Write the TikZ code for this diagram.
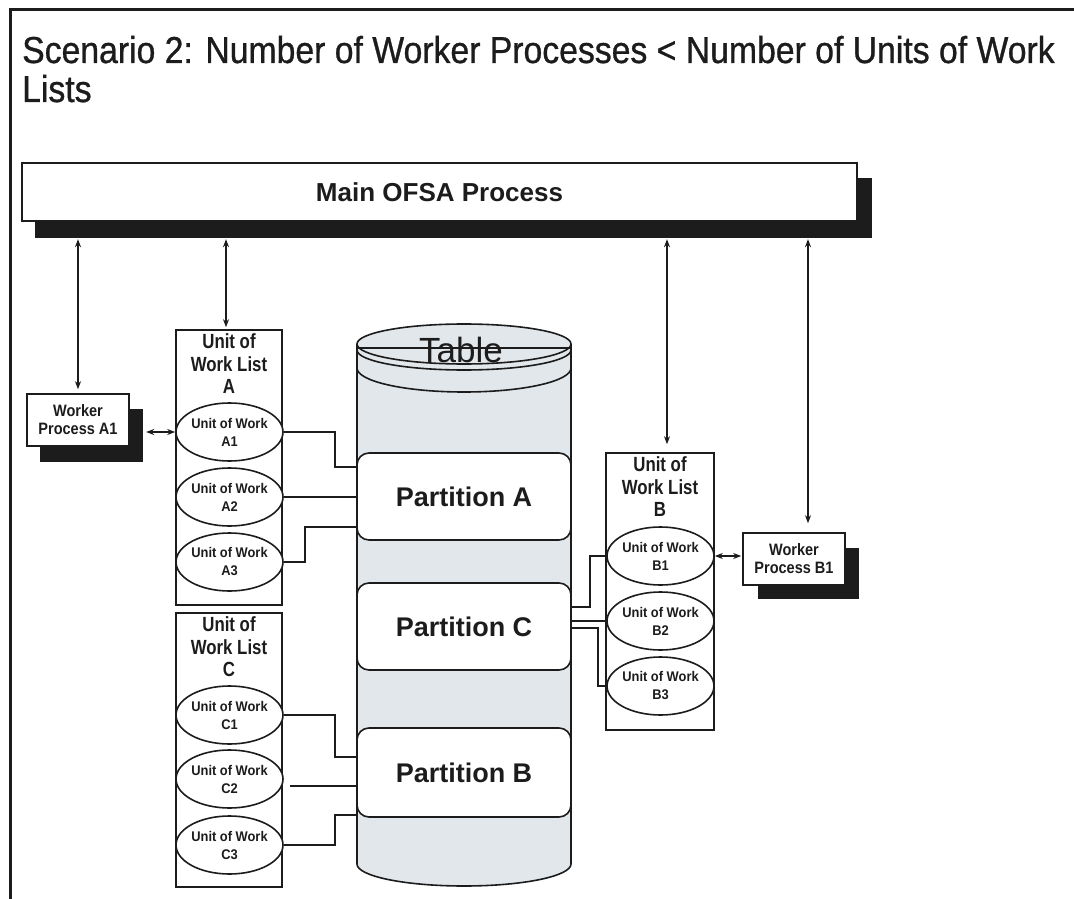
\documentclass[tikz,border=0pt]{standalone}
\usepackage{fontspec}
\setmainfont{Liberation Sans}
\newfontfamily\titlefont[FakeStretch=0.9,FakeBold=0.8]{Liberation Sans}
\newfontfamily\narrowfont[FakeStretch=0.82]{Liberation Sans}
\newfontfamily\workerfont[FakeStretch=0.88]{Liberation Sans}
\newfontfamily\unitfont[FakeStretch=0.92]{Liberation Sans}
\usetikzlibrary{calc,arrows.meta,shapes.geometric}
\definecolor{ink}{HTML}{1C1C1C}
\definecolor{cylgray}{HTML}{E2E7EB}
\tikzset{
  boxline/.style={draw=ink, line width=1.6pt},
  mainbox/.style={boxline, fill=white, minimum width=835pt, minimum height=58pt, inner sep=0pt, text=ink, font=\bfseries\fontsize{26}{30}\selectfont},
  shadowfill/.style={fill=ink, draw=none, inner sep=0pt},
  workerbox/.style={boxline, fill=white, minimum width=102pt, minimum height=52pt, inner sep=0pt, align=center, text=ink, font=\workerfont\bfseries\fontsize{16.5}{18}\selectfont},
  listbox/.style={boxline, fill=white, inner sep=0pt},
  listtitle/.style={align=center, inner sep=0pt, anchor=north, text=ink, font=\narrowfont\bfseries\fontsize{20.5}{22.5}\selectfont},
  unitell/.style={ellipse, boxline, fill=white, minimum width=107pt, minimum height=58pt, inner ysep=0pt, inner xsep=-8pt, align=center, text=ink, font=\unitfont\bfseries\fontsize{14}{18}\selectfont},
  partbox/.style={boxline, fill=white, rounded corners=12pt, minimum width=214pt, minimum height=87pt, inner sep=0pt, text=ink, font=\bfseries\fontsize{27}{30}\selectfont},
  conn/.style={draw=ink, line width=1.6pt},
  biarrow/.style={draw=ink, line width=1.3pt, {Stealth[length=8pt,width=6pt]}-{Stealth[length=8pt,width=6pt]}},
  titletext/.style={anchor=base west, inner sep=0pt, text=ink, font=\titlefont\fontsize{37.5}{41}\selectfont},
}
\begin{document}
\begin{tikzpicture}[x=1pt,y=1pt]
\useasboundingbox (0,0) rectangle (1074,-899);
\fill[white] (0,0) rectangle (1074,-899);
% frame
\draw[ink, line width=3pt] (10,-899) -- (10,-10) -- (1074,-10);
% title
\node[titletext] (t1) at (22,-63) {Scenario 2: Number of Worker Processes < Number of Units of Work};
\node[titletext] (t2) at (22,-102) {Lists};
% main process
\node[shadowfill, minimum width=837pt, minimum height=60pt] (mainsh) at (453.5,-208) {};
\node[mainbox] (main) at (439.5,-192) {Main OFSA Process};
% cylinder
\path[fill=cylgray] (357,-344) -- (357,-864) arc[start angle=180,end angle=360,x radius=107pt,y radius=22pt] -- (571,-344) arc[start angle=0,end angle=180,x radius=107pt,y radius=20pt] -- cycle;
\draw[conn] (357,-344) -- (357,-864) arc[start angle=180,end angle=360,x radius=107pt,y radius=22pt] -- (571,-344);
\draw[conn] (464,-344) ellipse [x radius=107pt, y radius=20pt];
\draw[conn, line width=1.2pt] (358,-348) -- (570,-348);
\draw[conn] (357,-350) arc[start angle=180,end angle=360,x radius=107pt,y radius=20pt];
\draw[conn] (357,-368) arc[start angle=180,end angle=360,x radius=107pt,y radius=24pt];
\node[anchor=base, inner sep=0pt, text=ink, font=\fontsize{35}{40}\selectfont] (tbl) at (461,-362) {Table};
% partitions
\node[partbox] (pA) at (464,-496.5) {Partition A};
\node[partbox] (pC) at (464,-626.5) {Partition C};
\node[partbox, minimum height=89pt] (pB) at (464,-772.5) {Partition B};
% workers
\node[shadowfill, minimum width=103pt, minimum height=53pt] (wAsh) at (91.5,-435.5) {};
\node[workerbox] (wA) at (78,-420) {Worker\\Process A1};
\node[shadowfill, minimum width=101pt, minimum height=51pt] (wBsh) at (808,-573) {};
\node[workerbox] (wB) at (794,-559) {Worker\\Process B1};
% lists
\node[listbox, minimum width=106pt, minimum height=275pt] (lA) at (229,-467.5) {};
\node[listtitle] (tA) at ([yshift=-4.5pt]lA.north) {Unit of\\Work List\\A};
\node[unitell] (eA1) at (229.5,-432) {Unit of Work\\A1};
\node[unitell] (eA2) at (229.5,-497) {Unit of Work\\A2};
\node[unitell] (eA3) at (229.5,-562) {Unit of Work\\A3};
\node[listbox, minimum width=106pt, minimum height=274pt] (lC) at (229,-750) {};
\node[listtitle] (tC) at ([yshift=-4.5pt]lC.north) {Unit of\\Work List\\C};
\node[unitell] (eC1) at (229.5,-715) {Unit of Work\\C1};
\node[unitell] (eC2) at (229.5,-779) {Unit of Work\\C2};
\node[unitell] (eC3) at (229.5,-845) {Unit of Work\\C3};
\node[listbox, minimum width=108pt, minimum height=277pt] (lB) at (660,-591.5) {};
\node[listtitle] (tB) at ([yshift=-4.5pt]lB.north) {Unit of\\Work List\\B};
\node[unitell] (eB1) at (660.5,-556) {Unit of Work\\B1};
\node[unitell] (eB2) at (660.5,-621) {Unit of Work\\B2};
\node[unitell] (eB3) at (660.5,-686) {Unit of Work\\B3};
% connectors to partitions
\draw[conn] (eA1.east) -- (335,-432) |- ([yshift=29.5pt]pA.west);
\draw[conn] (eA2.east) -- (eA2.east -| pA.west);
\draw[conn] (eA3.east) -- (305,-562) |- ([yshift=-30.5pt]pA.west);
\draw[conn] (eC1.east) -- (335,-715) |- ([yshift=15.5pt]pB.west);
\coordinate (c2s) at (290,-786);
\draw[conn] (c2s) -- (c2s -| pB.west);
\draw[conn] (eC3.east) -- (335,-845) |- ([yshift=-42.5pt]pB.west);
\draw[conn] ([yshift=19.5pt]pC.east) -- (590,-607) |- (eB1.west);
\draw[conn] (eB2.west -| pC.east) -- (eB2.west);
\draw[conn] ([yshift=-1.5pt]pC.east) -- (598,-628) |- (eB3.west);
% arrows
\draw[biarrow, shorten <=1pt, shorten >=4pt] (mainsh.south -| wA.north) -- (wA.north);
\coordinate (aA) at ([xshift=-3pt]lA.north);
\draw[biarrow, shorten <=1pt, shorten >=2pt] (mainsh.south -| aA) -- (aA);
\coordinate (aB) at ([xshift=7pt]lB.north);
\draw[biarrow, shorten <=1pt, shorten >=8pt] (mainsh.south -| aB) -- (aB);
\coordinate (aW) at ([xshift=14pt]wB.north);
\draw[biarrow, shorten <=1pt, shorten >=9pt] (mainsh.south -| aW) -- (aW);
\draw[biarrow, shorten <=3pt] (eA1.west -| wAsh.east) -- (eA1.west);
\draw[biarrow, shorten >=1pt] (eB1.east) -- (eB1.east -| wB.west);
\end{tikzpicture}
\end{document}
